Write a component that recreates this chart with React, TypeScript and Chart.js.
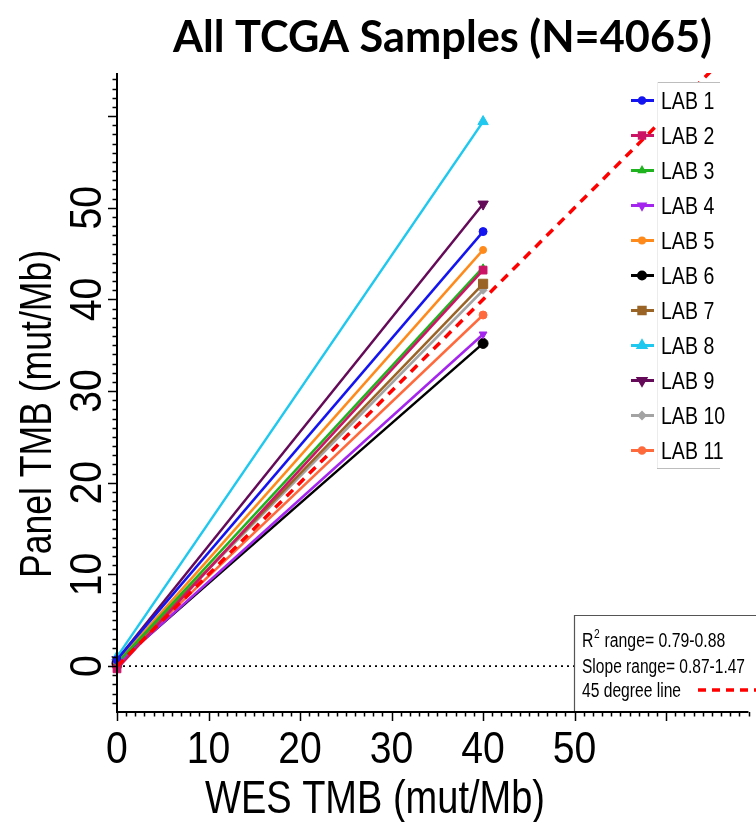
import React, { useEffect, useRef } from "react";
import { Chart, registerables } from "chart.js";
import { drawPoint } from "chart.js/helpers";

Chart.register(...registerables);

// ---------------- data ----------------
const chartTitle = "All TCGA Samples (N=4065)";
const xAxisTitle = "WES TMB (mut/Mb)";
const yAxisTitle = "Panel TMB (mut/Mb)";

const labNames = ["LAB 1", "LAB 2", "LAB 3", "LAB 4", "LAB 5", "LAB 6", "LAB 7", "LAB 8", "LAB 9", "LAB 10", "LAB 11"];
const wesX = [0, 40];
const lab1 = [0.7, 47.4];
const lab2 = [-0.3, 43.2];
const lab3 = [0.3, 43.5];
const lab4 = [0.2, 36.2];
const lab5 = [0.4, 45.4];
const lab6 = [0.3, 35.2];
const lab7 = [0.3, 41.7];
const lab8 = [1.0, 59.4];
const lab9 = [0.7, 50.4];
const lab10 = [0.4, 41.0];
const lab11 = [0.3, 38.3];
const labValues = [lab1, lab2, lab3, lab4, lab5, lab6, lab7, lab8, lab9, lab10, lab11];

const labColors = ["#1414f0", "#cc1466", "#1fb41f", "#a426ee", "#ff8a1c", "#000000", "#9a6426", "#1ec8ee", "#640a58", "#a3a3a3", "#ff6a3c"];
const labMarkers = ["circle", "rect", "triangle", "triangle", "circle", "circle", "rect", "triangle", "triangle", "rectRot", "circle"];
const labMarkerRot = [0, 0, 0, 180, 0, 0, 0, 0, 180, 0, 0];
const labMarkerSize = [4, 5.5, 3.5, 4.5, 3.5, 5, 6.5, 6, 6, 4, 4];

const refX = [0, 70];
const refY = [0, 70];
const zeroX = [0, 69];
const zeroY = [0, 0];

const xTickValues = [0, 10, 20, 30, 40, 50];
const yTickValues = [0, 10, 20, 30, 40, 50];
const xMin = 0, xMax = 69;
const yMin = -4.9, yMax = 64.7;

const statR2 = "0.79-0.88";
const statSlope = "0.87-1.47";
const refLabel = "45 degree line";

// ---------------- helpers ----------------
const SANS = '"Liberation Sans", Arial, sans-serif';

function drawText(ctx: CanvasRenderingContext2D, s: string, x: number, y: number, size: number, opts: any = {}) {
  const family = opts.family || SANS;
  const weight = opts.weight || "normal";
  ctx.save();
  ctx.font = `${weight} ${size}px ${family}`;
  let sx = opts.sx || 1;
  if (opts.width) {
    const w = ctx.measureText(s).width;
    sx = opts.width / w;
  }
  ctx.translate(x, y);
  if (opts.rot) ctx.rotate(opts.rot);
  ctx.scale(sx, 1);
  ctx.fillStyle = opts.color || "#000";
  ctx.textAlign = opts.align || "left";
  ctx.textBaseline = "alphabetic";
  ctx.fillText(s, 0, 0);
  ctx.restore();
}

const overlay = {
  id: "overlay",
  afterDatasetsDraw(chart: any) {
    const ctx: CanvasRenderingContext2D = chart.ctx;

    // legend box
    ctx.save();
    ctx.fillStyle = "#fff";
    ctx.fillRect(657, 82, 100, 386);
    ctx.strokeStyle = "#bdbdbd";
    ctx.lineWidth = 1;
    ctx.beginPath();
    ctx.moveTo(657, 82.5); ctx.lineTo(720, 82.5);
    ctx.moveTo(657, 468.5); ctx.lineTo(720, 468.5);
    ctx.stroke();
    ctx.strokeStyle = "#ececec";
    ctx.beginPath();
    ctx.moveTo(657.5, 82); ctx.lineTo(657.5, 468);
    ctx.stroke();
    ctx.restore();

    const ds = chart.data.datasets.filter((d: any) => d.isLab);
    ds.forEach((d: any, i: number) => {
      const cy = 100.5 + 35 * i;
      ctx.save();
      ctx.strokeStyle = d.borderColor;
      ctx.lineWidth = 3;
      ctx.beginPath();
      ctx.moveTo(631, cy); ctx.lineTo(654, cy);
      ctx.stroke();
      ctx.fillStyle = d.borderColor;
      ctx.strokeStyle = d.borderColor;
      drawPoint(ctx, { pointStyle: d.pointStyle, rotation: d.pointRotation, radius: Math.max(2.5, d.pointRadius * 0.7), borderWidth: 1 }, 642, cy);
      ctx.restore();
      drawText(ctx, d.label, 661, cy + 8.3, 23, { sx: 0.85 });
    });

    // stats box
    ctx.save();
    ctx.fillStyle = "#fff";
    ctx.fillRect(574, 615, 190, 96);
    ctx.strokeStyle = "#555";
    ctx.lineWidth = 1.2;
    ctx.beginPath();
    ctx.moveTo(574.5, 711); ctx.lineTo(574.5, 615.5); ctx.lineTo(760, 615.5);
    ctx.stroke();
    ctx.restore();

    // R^2 line
    const sx1 = 0.79;
    ctx.save();
    ctx.font = `20px ${SANS}`;
    const wR = ctx.measureText("R").width * sx1;
    ctx.font = `13px ${SANS}`;
    const w2 = ctx.measureText("2").width * sx1;
    ctx.restore();
    drawText(ctx, "R", 582, 647, 20, { sx: sx1 });
    drawText(ctx, "2", 582 + wR + 0.5, 638, 13, { sx: sx1 });
    drawText(ctx, " range= " + statR2, 582 + wR + w2 + 1, 647, 20, { sx: sx1 });
    drawText(ctx, "Slope range= " + statSlope, 582, 673, 20, { width: 163 });
    drawText(ctx, refLabel, 582, 697, 20, { width: 99 });
    const refDs = chart.data.datasets.find((d: any) => d.isRef);
    ctx.save();
    ctx.strokeStyle = refDs.borderColor;
    ctx.lineWidth = 3.5;
    ctx.setLineDash([8, 6]);
    ctx.beginPath();
    ctx.moveTo(698, 690); ctx.lineTo(760, 690);
    ctx.stroke();
    ctx.restore();
  },
  afterDraw(chart: any) {
    const ctx: CanvasRenderingContext2D = chart.ctx;
    const xs = chart.scales.x;
    const ys = chart.scales.y;
    const ca = chart.chartArea;

    // axis lines
    ctx.save();
    ctx.strokeStyle = "#000";
    ctx.lineWidth = 2;
    ctx.beginPath();
    ctx.moveTo(ca.left, ca.top);
    ctx.lineTo(ca.left, ca.bottom + 1);
    ctx.lineTo(ca.right, ca.bottom + 1);
    ctx.stroke();

    // ticks
    ctx.lineWidth = 1.5;
    ctx.beginPath();
    for (let v = Math.ceil(xMin); v <= Math.floor(xMax); v++) {
      const px = Math.round(xs.getPixelForValue(v)) + 0.5;
      const len = v % 10 === 0 ? 9 : 4.5;
      ctx.moveTo(px, ca.bottom + 1);
      ctx.lineTo(px, ca.bottom + 1 + len);
    }
    for (let v = Math.ceil(yMin); v <= Math.floor(yMax); v++) {
      const py = Math.round(ys.getPixelForValue(v)) + 0.5;
      const len = v % 10 === 0 ? 9 : 4.5;
      ctx.moveTo(ca.left, py);
      ctx.lineTo(ca.left - len, py);
    }
    ctx.stroke();
    ctx.restore();

    // tick labels
    xTickValues.forEach((v) => {
      drawText(ctx, String(v), xs.getPixelForValue(v), 763, 44, { sx: 0.89, align: "center" });
    });
    yTickValues.forEach((v) => {
      drawText(ctx, String(v), 101, ys.getPixelForValue(v), 44, { sx: 0.89, align: "center", rot: -Math.PI / 2 });
    });

    // axis titles
    drawText(ctx, xAxisTitle, 375, 813, 46, { width: 340, align: "center" });
    drawText(ctx, yAxisTitle, 51, 414, 45, { width: 328, align: "center", rot: -Math.PI / 2 });

    // chart title
    drawText(ctx, chartTitle, 442.5, 52, 44, { width: 539, align: "center", weight: "bold", family: 'Lato, "Open Sans", sans-serif' });
  },
};

export default function App() {
  const ref = useRef<HTMLCanvasElement | null>(null);
  useEffect(() => {
    if (!ref.current) return;
    const labDatasets = labNames.map((name, i) => ({
      label: name,
      isLab: true,
      data: wesX.map((x, j) => ({ x, y: labValues[i][j] })),
      showLine: true,
      borderColor: labColors[i],
      backgroundColor: labColors[i],
      borderWidth: 2.5,
      pointStyle: labMarkers[i],
      pointRotation: labMarkerRot[i],
      pointRadius: labMarkerSize[i],
      pointBorderWidth: 1,
      clip: false as any,
      order: 2,
    }));
    const chart = new Chart(ref.current, {
      type: "scatter",
      data: {
        datasets: [
          {
            label: refLabel,
            isRef: true,
            data: refX.map((x, j) => ({ x, y: refY[j] })),
            showLine: true,
            borderColor: "#ff0000",
            backgroundColor: "#ff0000",
            borderWidth: 3.5,
            borderDash: [9, 7],
            pointRadius: 0,
            order: 0,
          } as any,
          ...(labDatasets as any[]),
          {
            label: "zero",
            data: zeroX.map((x, j) => ({ x, y: zeroY[j] })),
            showLine: true,
            borderColor: "#000",
            borderWidth: 1.6,
            borderDash: [2, 4],
            pointRadius: 0,
            order: 20,
          } as any,
        ],
      },
      options: {
        responsive: false,
        animation: false,
        devicePixelRatio: 1,
        layout: { padding: { left: 117, right: 7, top: 73, bottom: 111 } },
        plugins: { legend: { display: false }, title: { display: false }, tooltip: { enabled: false } },
        events: [],
        scales: {
          x: {
            type: "linear",
            min: xMin,
            max: xMax,
            ticks: { display: false },
            grid: { display: false, drawTicks: false },
            border: { display: false },
            afterFit: (s: any) => { s.height = 0; },
          },
          y: {
            type: "linear",
            min: yMin,
            max: yMax,
            ticks: { display: false },
            grid: { display: false, drawTicks: false },
            border: { display: false },
            afterFit: (s: any) => { s.width = 0; },
          },
        },
      },
      plugins: [overlay],
    });
    return () => chart.destroy();
  }, []);
  return (
    <div style={{ position: "absolute", left: 0, top: 0, width: 756, height: 822, background: "#fff" }}>
      <canvas ref={ref} width={756} height={822} style={{ display: "block" }} />
    </div>
  );
}
